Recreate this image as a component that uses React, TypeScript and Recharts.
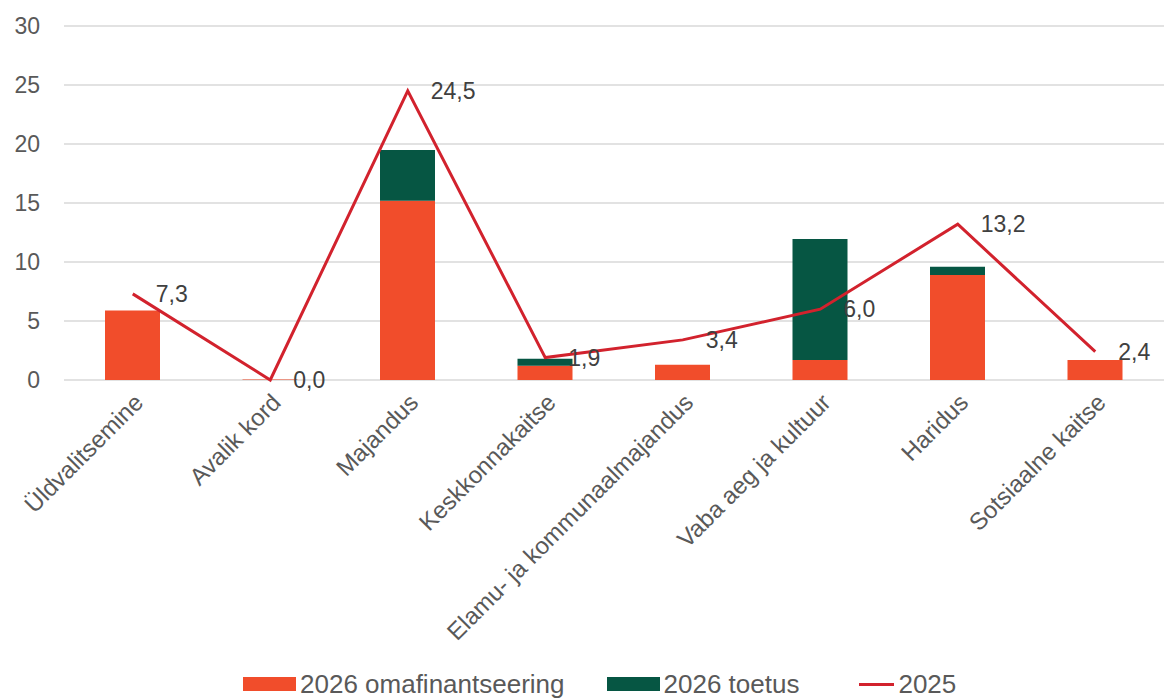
import React from "react";
import {
  ComposedChart,
  Bar,
  Line,
  XAxis,
  YAxis,
  CartesianGrid,
  Legend,
  LabelList,
} from "recharts";

const categories = [
  "Üldvalitsemine",
  "Avalik kord",
  "Majandus",
  "Keskkonnakaitse",
  "Elamu- ja kommunaalmajandus",
  "Vaba aeg ja kultuur",
  "Haridus",
  "Sotsiaalne kaitse",
];
const omafinantseering2026 = [5.9, 0.05, 15.2, 1.2, 1.3, 1.7, 8.9, 1.7];
const toetus2026 = [0, 0, 4.3, 0.6, 0, 10.25, 0.7, 0];
const values2025 = [7.3, 0.0, 24.5, 1.9, 3.4, 6.0, 13.2, 2.4];
const yTicks = [0, 5, 10, 15, 20, 25, 30];

const data = categories.map((name, i) => ({
  name,
  oma: omafinantseering2026[i],
  toetus: toetus2026[i],
  y2025: values2025[i],
}));

const ORANGE = "#F14D2B";
const GREEN = "#065643";
const RED = "#D2222D";
const TEXT = "#595959";
const FONT = "'Liberation Sans', Arial, sans-serif";

const XTick = (props: any) => {
  const { x, y, payload } = props;
  const ax = x + 12;
  const ay = y + 24;
  return (
    <text
      x={ax}
      y={ay}
      transform={`rotate(-45, ${ax}, ${ay})`}
      textAnchor="end"
      fill={TEXT}
      fontSize={24}
      fontFamily={FONT}
    >
      {payload.value}
    </text>
  );
};

const LineLabel = (props: any) => {
  const { x, y, value } = props;
  return (
    <text
      x={x + 23}
      y={y}
      dominantBaseline="central"
      fill="#404040"
      fontSize={23}
      fontFamily={FONT}
    >
      {Number(value).toFixed(1).replace(".", ",")}
    </text>
  );
};

const LegendContent = () => {
  const item = (icon: React.ReactNode, label: string, gapAfter: number) => (
    <div style={{ display: "flex", alignItems: "center", marginRight: gapAfter }}>
      {icon}
      <span style={{ marginLeft: 4, fontSize: 26, color: TEXT, fontFamily: FONT, lineHeight: "30px" }}>{label}</span>
    </div>
  );
  return (
    <div
      style={{
        display: "flex",
        alignItems: "center",
        height: 30,
        paddingLeft: 243,
        boxSizing: "border-box",
      }}
    >
      {item(<div style={{ width: 53, height: 14, background: ORANGE }} />, "2026 omafinantseering", 42)}
      {item(<div style={{ width: 53, height: 14, background: GREEN }} />, "2026 toetus", 60)}
      {item(<div style={{ width: 35, height: 3, background: RED }} />, "2025", 0)}
    </div>
  );
};

export default function App() {
  return (
    <div style={{ position: "absolute", left: 0, top: 0, width: 1164, height: 700, background: "#fff", overflow: "hidden" }}>
      <ComposedChart
        width={1164}
        height={700}
        data={data}
        margin={{ top: 26, right: 0, bottom: 0, left: 0 }}
        barSize={55}
        style={{ fontFamily: FONT }}
      >
        <CartesianGrid vertical={false} stroke="#d9d9d9" strokeWidth={1.5} />
        <XAxis
          dataKey="name"
          axisLine={false}
          tickLine={false}
          tickSize={0}
          tickMargin={0}
          interval={0}
          height={290}
          tick={<XTick />}
        />
        <YAxis
          domain={[0, 30]}
          ticks={yTicks}
          axisLine={false}
          tickLine={false}
          tickSize={0}
          tickMargin={24}
          width={64}
          tick={{ fill: TEXT, fontSize: 23, fontFamily: FONT }}
        />
        <Legend verticalAlign="bottom" content={<LegendContent />} wrapperStyle={{ left: 0, width: 1164, bottom: 1 }} />
        <Bar dataKey="oma" stackId="a" fill={ORANGE} isAnimationActive={false} />
        <Bar dataKey="toetus" stackId="a" fill={GREEN} isAnimationActive={false} />
        <Line
          dataKey="y2025"
          stroke={RED}
          strokeWidth={3}
          dot={false}
          isAnimationActive={false}
        >
          <LabelList dataKey="y2025" content={<LineLabel />} />
        </Line>
      </ComposedChart>
    </div>
  );
}
